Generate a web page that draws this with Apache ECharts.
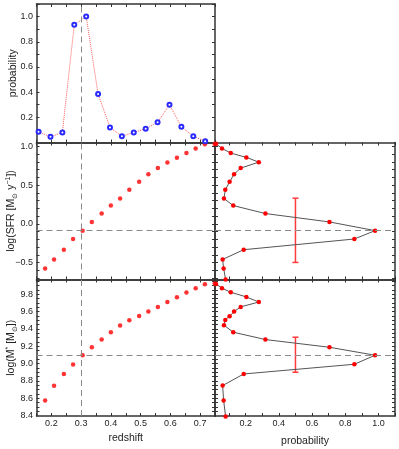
<!DOCTYPE html>
<html>
<head>
<meta charset="utf-8">
<script src="https://cdn.jsdelivr.net/npm/echarts@6/dist/echarts.min.js"></script>
<style>html,body{margin:0;padding:0;background:#fff}#chart{width:399px;height:449px}</style>
</head>
<body>
<div id="chart"></div>
<script>
// redshift probability distribution (top panel)
var zPdf = [0.157, 0.197, 0.237, 0.277, 0.317, 0.357, 0.397, 0.437, 0.477, 0.517, 0.557, 0.597, 0.637, 0.677, 0.717];
var pPdf = [0.085, 0.045, 0.08, 0.935, 1.0, 0.385, 0.12, 0.05, 0.08, 0.11, 0.16, 0.30, 0.125, 0.05, 0.01];

// model track vs redshift
var zTrack = [0.179, 0.209, 0.242, 0.273, 0.305, 0.336, 0.369, 0.400, 0.431, 0.462, 0.495, 0.526, 0.558, 0.590, 0.622, 0.654, 0.685, 0.716, 0.749];
var sfrTrack = [-0.573, -0.457, -0.332, -0.194, -0.086, 0.026, 0.134, 0.237, 0.328, 0.44, 0.543, 0.642, 0.72, 0.793, 0.853, 0.914, 0.974, 1.026, 1.03];
var massTrack = [8.573, 8.744, 8.88, 8.99, 9.096, 9.188, 9.277, 9.36, 9.44, 9.50, 9.55, 9.60, 9.654, 9.71, 9.765, 9.82, 9.87, 9.915, 9.925];

// marginal probabilities (right panels)
var sfrGrid = [1.034, 0.974, 0.914, 0.858, 0.797, 0.72, 0.642, 0.543, 0.44, 0.328, 0.237, 0.134, 0.026, -0.086, -0.194, -0.332, -0.457, -0.573, -0.716];
var massGrid = [9.919, 9.869, 9.823, 9.769, 9.71, 9.654, 9.60, 9.546, 9.504, 9.442, 9.362, 9.277, 9.188, 9.096, 8.992, 8.88, 8.746, 8.573, 8.388];
var pGrid = [0.021, 0.057, 0.11, 0.204, 0.279, 0.17, 0.13, 0.103, 0.077, 0.069, 0.125, 0.319, 0.705, 0.98, 0.855, 0.188, 0.061, 0.067, 0.079];

// best values and error bars
var zBest = 0.3;
var sfrBest = -0.078;
var massBest = 9.10;
var sfrErr = [0.5, -0.496, 0.332];
var massErr = [0.5, 8.90, 9.304];

// tick labels
var zLabels = [0.2, 0.3, 0.4, 0.5, 0.6, 0.7];
var probLabels = [0.2, 0.4, 0.6, 0.8, 1.0];
var sfrLabels = [-0.5, 0.0, 0.5, 1.0];
var massLabels = [8.4, 8.6, 8.8, 9.0, 9.2, 9.4, 9.6, 9.8];

function steps(a, b, d) {
  var out = [];
  for (var v = a; v <= b + 1e-9; v += d) out.push(Math.round(v * 1000) / 1000);
  return out;
}
var zTicks = steps(0.15, 0.75, 0.05);
var probTicks = steps(0.1, 1.1, 0.1);
var sfrTicks = steps(-0.7, 1.0, 0.1);
var massTicks = steps(8.45, 9.95, 0.05);

var font = 'Liberation Sans';
var txt = '#222';
var dash = { color: '#8a8a8a', type: [6, 4], width: 1 };

function fmt(v) { return v.toFixed(1).replace('-', '\u2212'); }

function axis(grid, pos, min, max, ticks, labels, extra) {
  var a = {
    type: 'value', gridIndex: grid, position: pos, min: min, max: max,
    nameMoveOverlap: false,
    splitLine: { show: false },
    axisLine: { show: true, onZero: false, lineStyle: { color: '#333', width: 1.5 } },
    axisTick: { show: true, inside: true, length: 3, customValues: ticks, lineStyle: { color: '#333', width: 1 } },
    axisLabel: labels ? { show: true, customValues: labels, formatter: fmt, fontFamily: font, fontSize: 9, color: txt, margin: 3.5 } : { show: false }
  };
  for (var k in extra) a[k] = extra[k];
  return a;
}

var rich = {
  a: { fontFamily: font, fontSize: 10.5, color: txt, lineHeight: 14 },
  s: { fontFamily: font, fontSize: 7, color: txt, verticalAlign: 'bottom' },
  p: { fontFamily: font, fontSize: 7, color: txt, verticalAlign: 'top' }
};
var nameStyle = { fontFamily: font, fontSize: 10.5, color: txt };

var xAxes = [
  axis(0, 'bottom', 0.15, 0.75, zTicks, null),
  axis(0, 'top', 0.15, 0.75, zTicks, null),
  axis(1, 'bottom', 0.15, 0.75, zTicks, null),
  axis(1, 'top', 0.15, 0.75, zTicks, null),
  axis(2, 'bottom', 0.15, 0.75, zTicks, zLabels, {
    name: 'redshift', nameLocation: 'middle', nameGap: 16.5,
    nameTextStyle: Object.assign({ verticalAlign: 'top' }, nameStyle)
  }),
  axis(2, 'top', 0.15, 0.75, zTicks, null),
  axis(3, 'bottom', 0.015, 1.1, probTicks, null),
  axis(3, 'top', 0.015, 1.1, probTicks, null),
  axis(4, 'bottom', 0.015, 1.1, probTicks, probLabels, {
    name: 'probability', nameLocation: 'middle', nameGap: 19.5,
    nameTextStyle: Object.assign({ verticalAlign: 'top' }, nameStyle)
  }),
  axis(4, 'top', 0.015, 1.1, probTicks, null)
];

var yAxes = [
  axis(0, 'left', 0, 1.1, probTicks, probLabels, {
    name: 'probability', nameLocation: 'middle', nameGap: 18, nameRotate: 90,
    nameTextStyle: nameStyle
  }),
  axis(0, 'right', 0, 1.1, probTicks, null),
  axis(1, 'left', -0.716, 1.05, sfrTicks, sfrLabels, {
    name: '{a|log(SFR [M}{s|\u2299}{a| y}{p|\u22121}{a|])}', nameLocation: 'middle', nameGap: 18, nameRotate: 90,
    nameTextStyle: { rich: rich }
  }),
  axis(1, 'right', -0.716, 1.05, sfrTicks, null),
  axis(2, 'left', 8.395, 9.97, massTicks, massLabels, {
    name: '{a|log(M}{p|*}{a| [M}{s|\u2299}{a|])}', nameLocation: 'middle', nameGap: 18, nameRotate: 90,
    nameTextStyle: { rich: rich }
  }),
  axis(2, 'right', 8.395, 9.97, massTicks, null),
  axis(3, 'left', -0.716, 1.05, sfrTicks, null),
  axis(3, 'right', -0.716, 1.05, sfrTicks, null),
  axis(4, 'left', 8.395, 9.97, massTicks, null),
  axis(4, 'right', 8.395, 9.97, massTicks, null)
];

function zip(a, b) { return a.map(function (v, i) { return [v, b[i]]; }); }

function errBar(params, api) {
  var x = api.value(0);
  var lo = api.coord([x, api.value(1)]);
  var hi = api.coord([x, api.value(2)]);
  var st = { stroke: '#ff3b3b', lineWidth: 1.5 };
  return {
    type: 'group', children: [
      { type: 'line', shape: { x1: lo[0], y1: lo[1], x2: hi[0], y2: hi[1] }, style: st },
      { type: 'line', shape: { x1: lo[0] - 3, y1: lo[1], x2: lo[0] + 3, y2: lo[1] }, style: st },
      { type: 'line', shape: { x1: hi[0] - 3, y1: hi[1], x2: hi[0] + 3, y2: hi[1] }, style: st }
    ]
  };
}

var noSym = { symbol: ['none', 'none'], silent: true, label: { show: false }, lineStyle: dash, animation: false };

function grid(l, t, w, h) {
  return { left: l, top: t, width: w, height: h, outerBoundsMode: 'none', containLabel: false };
}

var option = {
  animation: false,
  backgroundColor: '#fff',
  grid: [
    grid(36.5, 4, 178.5, 138.5),
    grid(36.5, 142.5, 178.5, 137),
    grid(36.5, 279.5, 178.5, 136.5),
    grid(215, 142.5, 180, 137),
    grid(215, 279.5, 180, 136.5)
  ],
  xAxis: xAxes,
  yAxis: yAxes,
  series: [
    {
      type: 'line', xAxisIndex: 0, yAxisIndex: 0, data: zip(zPdf, pPdf), clip: false,
      symbol: 'emptyCircle', symbolSize: 4, showAllSymbol: true,
      itemStyle: { color: '#2a2aff', borderWidth: 1.3 },
      lineStyle: { color: '#ff5c5c', width: 1, type: 'dotted' },
      markLine: Object.assign({ data: [{ xAxis: zBest }] }, noSym)
    },
    {
      type: 'scatter', xAxisIndex: 2, yAxisIndex: 2, data: zip(zTrack, sfrTrack), clip: false,
      symbol: 'circle', symbolSize: 4.5, itemStyle: { color: '#ff0000' },
      markLine: Object.assign({ data: [{ xAxis: zBest }, { yAxis: sfrBest }] }, noSym)
    },
    {
      type: 'scatter', xAxisIndex: 4, yAxisIndex: 4, data: zip(zTrack, massTrack), clip: false,
      symbol: 'circle', symbolSize: 4.5, itemStyle: { color: '#ff0000' },
      markLine: Object.assign({ data: [{ xAxis: zBest }, { yAxis: massBest }] }, noSym)
    },
    {
      type: 'line', xAxisIndex: 6, yAxisIndex: 6, data: zip(pGrid, sfrGrid), clip: false,
      symbol: 'circle', symbolSize: 4.5, showAllSymbol: true,
      itemStyle: { color: '#ff0000' }, lineStyle: { color: '#555', width: 1 },
      markLine: Object.assign({ data: [{ yAxis: sfrBest }] }, noSym)
    },
    {
      type: 'line', xAxisIndex: 8, yAxisIndex: 8, data: zip(pGrid, massGrid), clip: false,
      symbol: 'circle', symbolSize: 4.5, showAllSymbol: true,
      itemStyle: { color: '#ff0000' }, lineStyle: { color: '#555', width: 1 },
      markLine: Object.assign({ data: [{ yAxis: massBest }] }, noSym)
    },
    {
      type: 'custom', xAxisIndex: 6, yAxisIndex: 6, renderItem: errBar,
      encode: { x: 0, y: [1, 2] }, data: [sfrErr]
    },
    {
      type: 'custom', xAxisIndex: 8, yAxisIndex: 8, renderItem: errBar,
      encode: { x: 0, y: [1, 2] }, data: [massErr]
    }
  ]
};

var myChart = echarts.init(document.getElementById('chart'));
myChart.setOption(option);
</script>
</body>
</html>
